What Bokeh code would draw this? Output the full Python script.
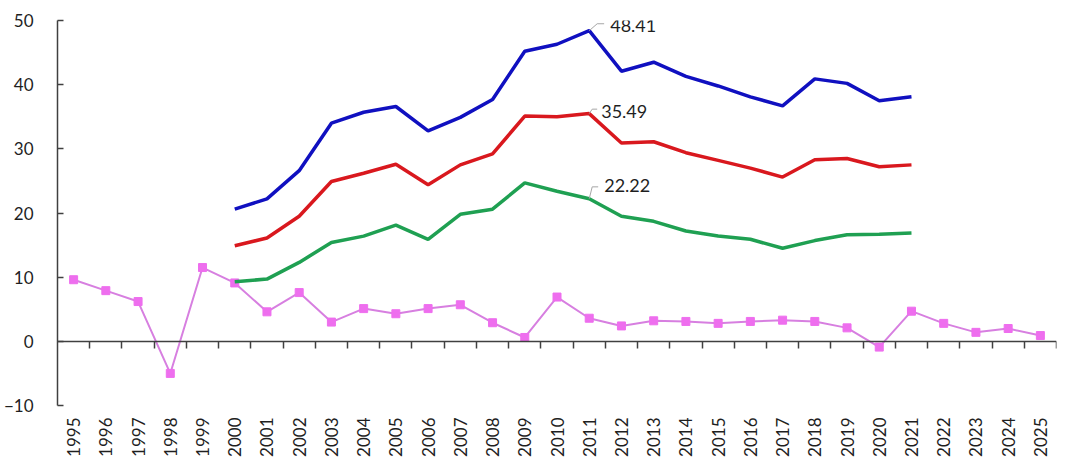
import math
from bokeh.plotting import figure
from bokeh.models import LinearAxis, FixedTicker, ColumnDataSource
from bokeh.core.properties import value
from bokeh.embed import file_html
from bokeh.resources import INLINE

years = list(range(1995, 2026))
pink_vals = [9.6, 7.9, 6.2, -5.0, 11.5, 9.1, 4.6, 7.6, 3.0, 5.1, 4.3, 5.1, 5.7, 2.9, 0.6,
             6.9, 3.6, 2.4, 3.2, 3.1, 2.8, 3.1, 3.3, 3.1, 2.1, -0.9, 4.7, 2.8, 1.4, 2.0, 0.9]

years_b = list(range(2000, 2022))
blue_vals = [20.6, 22.2, 26.6, 34.0, 35.7, 36.6, 32.8, 34.9, 37.7, 45.2, 46.3, 48.41,
             42.1, 43.5, 41.3, 39.8, 38.1, 36.7, 40.9, 40.2, 37.5, 38.1]
red_vals = [14.9, 16.1, 19.5, 24.9, 26.2, 27.6, 24.4, 27.5, 29.2, 35.1, 35.0, 35.49,
            30.9, 31.1, 29.4, 28.2, 27.0, 25.6, 28.3, 28.5, 27.2, 27.5]
green_vals = [9.3, 9.7, 12.3, 15.4, 16.4, 18.1, 15.9, 19.8, 20.6, 24.7, 23.4, 22.22,
              19.5, 18.7, 17.2, 16.4, 15.9, 14.5, 15.7, 16.6, 16.7, 16.9]

y_ticks = [-10, 0, 10, 20, 30, 40, 50]
y_min, y_max = -10, 50
peak_year = 2011

FONT = "Lato"
TXT = "#1f1f1f"
FW, FH = 1004, 388

p = figure(width=1064, height=459, x_range=(1994.5, 2025.5), y_range=(y_min, y_max),
           output_backend="svg", toolbar_location=None, x_axis_location=None,
           min_border_left=52, min_border_right=8, min_border_top=20, min_border_bottom=0)
p.xgrid.visible = False
p.ygrid.visible = False
p.outline_line_color = None
p.background_fill_color = "white"

# y axis
ya = p.yaxis[0]
ya.ticker = FixedTicker(ticks=y_ticks)
ya.axis_line_color = "#404040"
ya.axis_line_width = 1.5
ya.major_tick_line_color = "#404040"
ya.major_tick_line_width = 1.5
ya.major_tick_in = 6
ya.major_tick_out = 0
ya.minor_tick_line_color = None
ya.major_label_standoff = 24
ya.major_label_text_font = FONT
ya.major_label_text_font_size = "17px"
ya.major_label_text_color = TXT

# zero line axis with boundary ticks between categories
bounds = [y + 0.5 for y in years]
zax = LinearAxis(fixed_location=0, ticker=FixedTicker(ticks=bounds))
zax.axis_line_color = "#404040"
zax.axis_line_width = 1.5
zax.major_tick_line_color = "#404040"
zax.major_tick_line_width = 1.5
zax.major_tick_in = 7
zax.major_tick_out = 0
zax.minor_tick_line_color = None
zax.major_label_text_color = None
zax.major_label_overrides = {b: "" for b in bounds}
zax.major_label_standoff = 0
p.add_layout(zax, "above")

# year label axis
lax = LinearAxis(ticker=FixedTicker(ticks=years))
lax.axis_line_color = None
lax.major_tick_line_color = None
lax.minor_tick_line_color = None
lax.major_tick_out = 0
lax.major_tick_in = 0
lax.major_label_orientation = math.pi / 2
lax.major_label_standoff = 12
lax.major_label_text_font = FONT
lax.major_label_text_font_size = "17px"
lax.major_label_text_color = TXT
p.add_layout(lax, "below")

# pink series
p.line(years, pink_vals, line_color="#D77FE0", line_width=2)
p.scatter(years, pink_vals, marker="square", size=8, fill_color="#EE6EEE", line_color="#EE6EEE")

p.line(years_b, green_vals, line_color="#1FA052", line_width=3.5)
p.line(years_b, red_vals, line_color="#D9181E", line_width=3.5)
p.line(years_b, blue_vals, line_color="#1010C0", line_width=3.5)

# peak labels with leader lines
i = years_b.index(peak_year)
peaks = [blue_vals[i], red_vals[i], green_vals[i]]
px_per_x = FW / 31.0
px_per_y = FH / float(y_max - y_min)
lead_dx1 = [8, 3, 3]
lead_dy1 = [7, 4.5, 12]
lead_dx2 = [15, 8, 9]
xs, ys = [], []
for v, a, b, c in zip(peaks, lead_dx1, lead_dy1, lead_dx2):
    xs.append([peak_year, peak_year + a / px_per_x, peak_year + c / px_per_x])
    ys.append([v, v + b / px_per_y, v + b / px_per_y])
p.multi_line(xs, ys, line_color="#A6A6A6", line_width=1)

src = ColumnDataSource(dict(x=[peak_year] * 3, y=peaks, t=[f"{v:.2f}" for v in peaks],
                            xo=[21, 12, 15], yo=[-5.5, -2, -13]))
p.text(x="x", y="y", text="t", x_offset="xo", y_offset="yo", source=src,
       text_font=value(FONT), text_font_size="18px", text_color=TXT,
       text_align="left", text_baseline="middle")

open("out.html", "w").write(file_html(p, INLINE))
